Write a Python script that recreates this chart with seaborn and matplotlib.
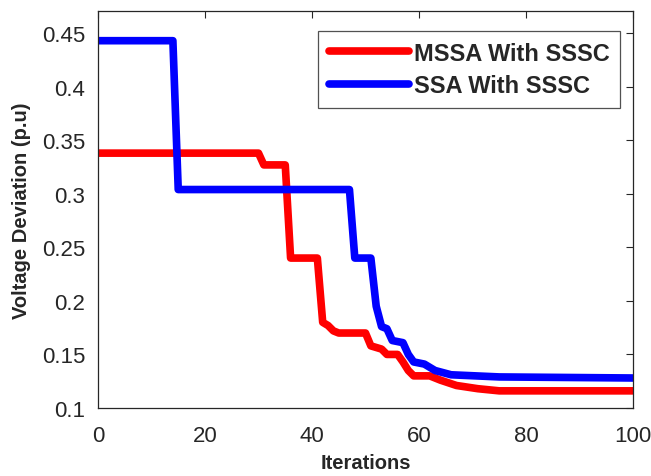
import pandas as pd
import numpy as np
import seaborn as sns
import matplotlib
matplotlib.use("Agg")
import matplotlib.pyplot as plt

# breakpoints
mssa_iter = [0, 30, 31, 35, 36, 41, 42, 43, 44, 45, 50, 51, 53, 54, 56, 57, 58, 59,
             62, 64, 67, 71, 75, 100]
mssa_dev = [0.338, 0.338, 0.327, 0.327, 0.240, 0.240, 0.180, 0.177, 0.172, 0.170,
            0.170, 0.158, 0.155, 0.150, 0.150, 0.143, 0.135, 0.130, 0.130, 0.126,
            0.121, 0.118, 0.116, 0.116]

ssa_iter = [0, 14, 15, 47, 48, 51, 52, 53, 54, 55, 57, 58, 59, 61, 62, 63, 66, 75, 100]
ssa_dev = [0.443, 0.443, 0.304, 0.304, 0.240, 0.240, 0.195, 0.176, 0.174, 0.163,
           0.161, 0.150, 0.143, 0.141, 0.138, 0.135, 0.131, 0.129, 0.128]

labels = ["MSSA With SSSC", "SSA With SSSC"]
x_ticks = [0, 20, 40, 60, 80, 100]
y_ticks = [0.1, 0.15, 0.2, 0.25, 0.3, 0.35, 0.4, 0.45]
y_ticklabels = ["0.1", "0.15", "0.2", "0.25", "0.3", "0.35", "0.4", "0.45"]

df = pd.concat([
    pd.DataFrame({"Iterations": mssa_iter, "dev": mssa_dev, "algo": labels[0]}),
    pd.DataFrame({"Iterations": ssa_iter, "dev": ssa_dev, "algo": labels[1]}),
])

sns.set_style("white")
plt.rcParams["font.family"] = ["Liberation Sans", "DejaVu Sans"]

fig = plt.figure(figsize=(6.51, 4.77), dpi=100)
ax = fig.add_axes([0.1505, 0.1426, 0.8219, 0.8324])

sns.lineplot(data=df, x="Iterations", y="dev", hue="algo",
             palette={labels[0]: "#ff0000", labels[1]: "#0000ff"},
             linewidth=5.5, estimator=None, sort=False, ax=ax)

ax.set_xlim(0, 100)
ax.set_ylim(0.1, 0.4708)
ax.set_xticks(x_ticks)
ax.set_xticklabels([str(t) for t in x_ticks])
ax.set_yticks(y_ticks)
ax.set_yticklabels(y_ticklabels)
ax.tick_params(direction="in", length=5, width=0.8, top=True, right=True,
               labelsize=16, colors="#262626")
ax.tick_params(axis="x", pad=12)
ax.tick_params(axis="y", pad=9)
for s in ax.spines.values():
    s.set_color("#262626")
    s.set_linewidth(0.9)

ax.set_xlabel("Iterations", fontsize=14.5, fontweight="bold", labelpad=5)
ax.set_ylabel("Voltage Deviation (p.u)", fontsize=14.5, fontweight="bold", labelpad=8)

leg = ax.legend(loc="upper right", bbox_to_anchor=(0.9757, 0.9496), borderaxespad=0,
                prop={"weight": "bold", "size": 17}, handlelength=3.4,
                handletextpad=0.2, labelspacing=0.4, borderpad=0.45, frameon=True,
                fancybox=False, edgecolor="#262626")
leg.get_frame().set_linewidth(0.9)

fig.savefig("out.png", dpi=100)
